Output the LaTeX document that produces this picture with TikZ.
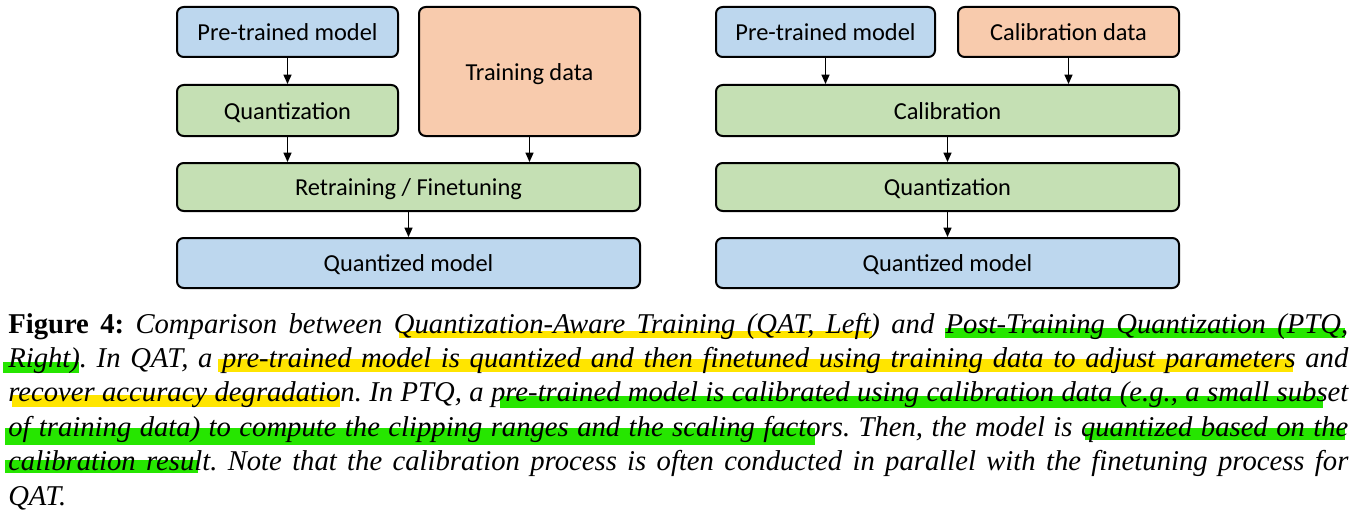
\documentclass[tikz,border=0pt]{standalone}
\usepackage{fontspec}
\setmainfont{Liberation Serif}
\newfontfamily\boxfont{Carlito}
\usetikzlibrary{arrows.meta}

\definecolor{boxblue}{RGB}{189,215,238}
\definecolor{boxgreen}{RGB}{197,224,180}
\definecolor{boxorange}{RGB}{248,203,173}
\definecolor{hlyellow}{RGB}{255,229,0}
\definecolor{hlgreen}{RGB}{38,230,0}

\begin{document}
\begin{tikzpicture}[x=0.75pt,y=-0.75pt,
  stage/.style={draw=black, line width=1.5pt, rounded corners=5pt, inner sep=0pt,
    text=black, text height=14.6pt, text depth=1.8pt,
    font=\boxfont\fontsize{18.3pt}{22pt}\selectfont},
  bluebox/.style={stage, fill=boxblue},
  greenbox/.style={stage, fill=boxgreen},
  orangebox/.style={stage, fill=boxorange},
  narrow/.style={minimum width=165.75pt},
  wide/.style={minimum width=347.25pt},
  flow/.style={draw=black, line width=0.9pt, -{Triangle[length=7pt,width=6pt]}},
  hly/.style={fill=hlyellow},
  hlg/.style={fill=hlgreen}]

\useasboundingbox (0,0) rectangle (1359,517);
\fill[white] (0,0) rectangle (1359,517);

% ---- Quantization-aware training (left) ----
\node[bluebox, narrow, minimum height=37.5pt] (lpre) at (287.5,32) {Pre-trained model};
\node[greenbox, narrow, minimum height=38.25pt] (lquant) at (287.5,110.5) {Quantization};
\node[orangebox, narrow, minimum height=96.75pt] (ltrain) at (529.5,71.5) {Training data};
\node[greenbox, wide, minimum height=36pt] (lretrain) at (408.5,187) {Retraining / Finetuning};
\node[bluebox, wide, minimum height=37.5pt] (lout) at (408.5,263) {Quantized model};

\draw[flow] (lpre) -- (lquant);
\draw[flow] (lquant.south) -- (lquant.south |- lretrain.north);
\draw[flow] (ltrain.south) -- (ltrain.south |- lretrain.north);
\draw[flow] (lretrain) -- (lout);

% ---- Post-training quantization (right) ----
\node[bluebox, minimum width=164.25pt, minimum height=37.5pt] (rpre) at (825.5,32) {Pre-trained model};
\node[orangebox, narrow, minimum height=37.5pt] (rdata) at (1068.5,32) {Calibration data};
\node[greenbox, wide, minimum height=38.25pt] (rcal) at (947.5,110.5) {Calibration};
\node[greenbox, wide, minimum height=36pt] (rquant) at (947.5,187) {Quantization};
\node[bluebox, wide, minimum height=37.5pt] (rout) at (947.5,263) {Quantized model};

\draw[flow] (rpre.south) -- (rpre.south |- rcal.north);
\draw[flow] (rdata.south) -- (rdata.south |- rcal.north);
\draw[flow] (rcal) -- (rquant);
\draw[flow] (rquant) -- (rout);

% ---- highlighter marks under the caption ----
\fill[hly] (399,331) rectangle (872,338);
\fill[hlg] (945,328) rectangle (1345,338);
\fill[hlg] (3,362) rectangle (79,373);
\fill[hly] (218,359) rectangle (1293,372);
\fill[hly] (12,395) rectangle (340,407);
\fill[hlg] (500,396) rectangle (1323,408);
\fill[hlg] (5,428) rectangle (815,445);
\fill[hlg] (1085,428) rectangle (1345,440);
\fill[hlg] (5,460) rectangle (198,473);

% ---- caption ----
\node[anchor=base west, inner sep=0pt, text width=1005pt, align=justify,
  font=\fontsize{21.5pt}{25.8pt}\selectfont] (caption) at (8,333)
{\hyphenpenalty=10000\exhyphenpenalty=10000\frenchspacing
\textbf{Figure 4:} \textit{Comparison between Quantization-Aware Training (QAT, Left) and Post-Training Quantization (PTQ,\linebreak
Right). In QAT, a pre-trained model is quantized and then finetuned using training data to adjust parameters and\linebreak
recover accuracy degradation. In PTQ, a pre-trained model is calibrated using calibration data (e.g., a small subset\linebreak
of training data) to compute the clipping ranges and the scaling factors. Then, the model is quantized based on the\linebreak
calibration result. Note that the calibration process is often conducted in parallel with the finetuning process for\linebreak
QAT.}};

\end{tikzpicture}
\end{document}
